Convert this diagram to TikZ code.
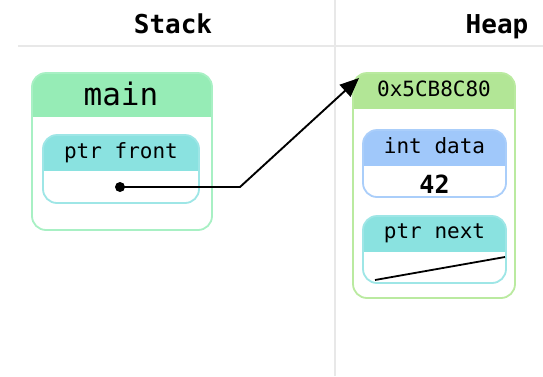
\documentclass[tikz,border=0pt]{standalone}
\usepackage{fontspec}
\usetikzlibrary{arrows.meta}
\newfontfamily\codefont{DejaVu Sans Mono}

\definecolor{frameGreen}{RGB}{168,240,196}
\definecolor{headGreen}{RGB}{150,236,182}
\definecolor{frameCyan}{RGB}{158,230,230}
\definecolor{headCyan}{RGB}{138,226,224}
\definecolor{frameLime}{RGB}{186,234,160}
\definecolor{headLime}{RGB}{178,230,150}
\definecolor{frameBlue}{RGB}{170,206,250}
\definecolor{headBlue}{RGB}{160,200,250}
\definecolor{rule}{RGB}{232,232,232}

\tikzset{
  x=1pt, y=-1pt,
  % rounded frame whose top band is filled: #1 border, #2 band colour, #3 band height
  cell/.style n args={3}{
    draw=#1, fill=white, line width=1.8pt, rounded corners=14pt,
    inner sep=0pt, outer sep=0pt,
    path picture={
      \fill[#2, sharp corners] (path picture bounding box.north west)
        rectangle ([yshift=-#3]path picture bounding box.north east);
    }
  },
  label/.style={anchor=base, inner sep=0pt, font=\codefont\fontsize{21}{21}\selectfont},
  title/.style={anchor=base, inner sep=0pt, font=\codefont\bfseries\fontsize{26}{26}\selectfont},
  pointer/.style={line width=1.9pt, draw=black},
}

\begin{document}
\begin{tikzpicture}
\useasboundingbox (0,0) rectangle (543,376);

% column rules
\draw[rule, line width=1.6pt] (18,46) -- (543,46);
\draw[rule, line width=1.6pt] (335,0) -- (335,376);

% column titles
\node[title] (stackTitle) at (173,33) {Stack};
\node[title] (heapTitle) at (497,33) {Heap};

% stack frame
\node[cell={frameGreen}{headGreen}{44pt}, minimum width=180pt, minimum height=157pt] (main) at (122,151.5) {};
\node[label, font=\codefont\fontsize{31}{31}\selectfont] (mainName) at (121,105) {main};

\node[cell={frameCyan}{headCyan}{36pt}, minimum width=156pt, minimum height=68pt] (front) at (121,169) {};
\node[label] (frontName) at (121,158.5) {ptr front};

% heap node
\node[cell={frameLime}{headLime}{36pt}, minimum width=162pt, minimum height=225pt] (heap) at (434,185.5) {};
\node[label] (heapAddr) at (434,96) {0x5CB8C80};

\node[cell={frameBlue}{headBlue}{36pt}, minimum width=143pt, minimum height=67pt] (data) at (434.5,163.5) {};
\node[label] (dataName) at (434.5,153) {int data};
\node[label, font=\codefont\bfseries\fontsize{25}{25}\selectfont] (dataValue) at (434.5,193) {42};

\node[cell={frameCyan}{headCyan}{36pt}, minimum width=143pt, minimum height=67pt] (next) at (434.5,249.5) {};
\node[label] (nextName) at (434.5,238.5) {ptr next};

% pointer from front to the heap node
\node[circle, fill=black, inner sep=0pt, minimum size=10pt] (dot) at (120,187) {};
\coordinate (bend) at (240,187);
\draw[pointer, -{Triangle[length=19pt, width=16pt]}]
  (dot.center) -- (bend) -- ([shift={(6,5)}]heap.north west);

% null pointer stroke
\draw[line width=1.8pt] ([shift={(12,-3)}]next.south west) -- ([shift={(-1,7.5)}]next.east);
\end{tikzpicture}
\end{document}
